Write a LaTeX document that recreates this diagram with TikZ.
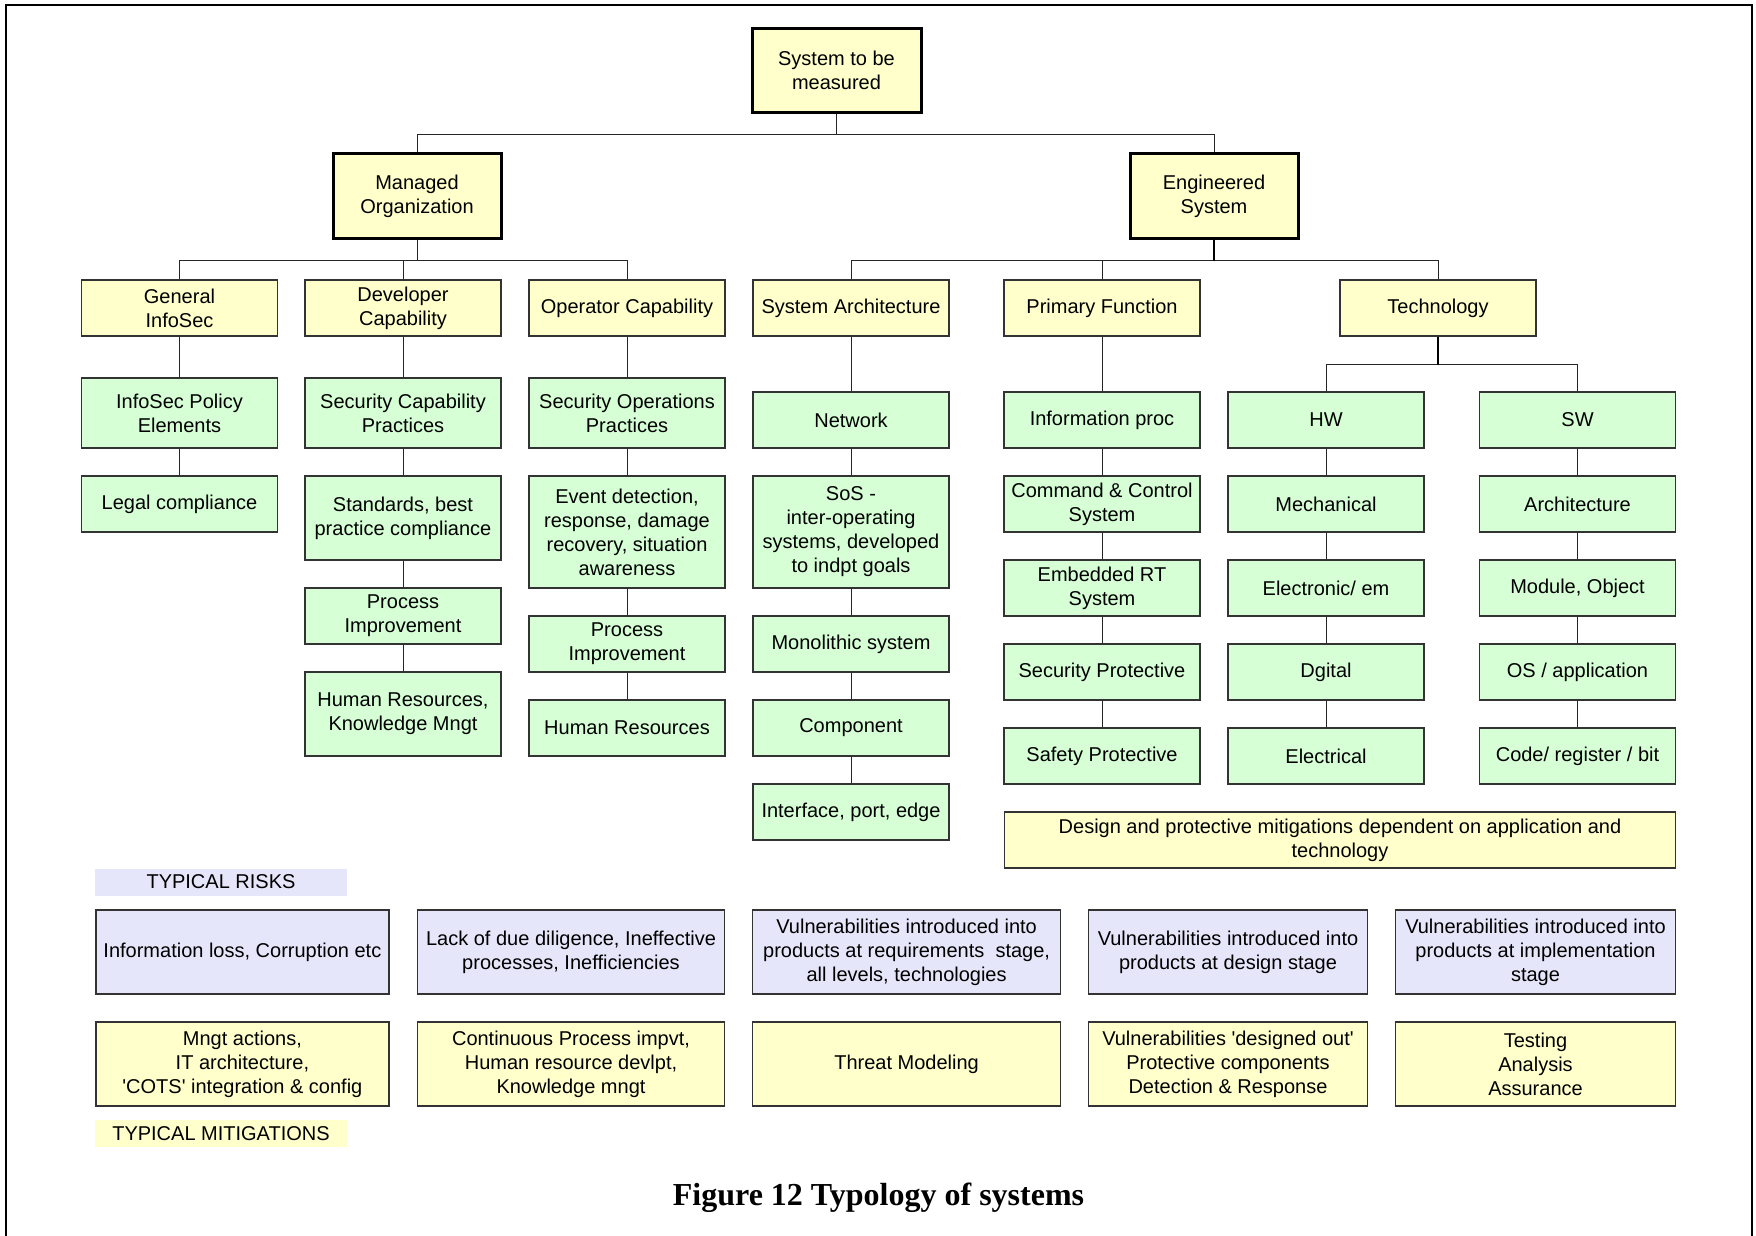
\documentclass[tikz,border=0pt]{standalone}
\usepackage{fontspec}
\setmainfont{Liberation Sans}
\newfontfamily\capfont{Liberation Serif}
\definecolor{yel}{HTML}{FFFFCC}
\definecolor{grn}{HTML}{D6FFD6}
\definecolor{lav}{HTML}{E6E6FA}
\begin{document}
\begin{tikzpicture}[x=0.5pt,y=-0.5pt,
  base/.style={rectangle, inner sep=0pt, align=center, text=black,
    font=\fontsize{10}{12}\selectfont},
  boxw/.style={minimum width=#1*0.5pt},
  boxh/.style={minimum height=#1*0.5pt},
  thinbox/.style={base, draw=black!80, line width=0.7pt, boxw=196, boxh=56},
  gbox/.style={thinbox, fill=grn},
  ybox/.style={thinbox, fill=yel},
  rbox/.style={thinbox, fill=lav, boxh=84},
  mbox/.style={thinbox, fill=yel, boxh=84},
  mainbox/.style={base, draw=black, line width=1.5pt, fill=yel, boxw=168, boxh=84},
  tag/.style={base, boxw=252, boxh=27},
  conn/.style={draw=black!85, line width=0.5pt},
  thickconn/.style={draw=black, line width=1pt}]
\useasboundingbox (0,0) rectangle (1756,1236);
\fill[white] (0,0) rectangle (1756,1236);
% outer frame (open at the bottom)
\draw[line width=1.2pt] (6,1236) -- (6,5) -- (1752,5) -- (1752,1236);

% top levels
\node[mainbox, boxw=169] (t0) at (836.5,70.5) {System to be\\measured};
\node[mainbox] (mo) at (417,196) {Managed\\Organization};
\node[mainbox] (es) at (1214,196) {Engineered\\System};

% second level
\node[ybox] (gi) at (179.5,308) {General\\InfoSec};
\node[ybox] (dc) at (403,308) {Developer\\Capability};
\node[ybox] (oc) at (627,308) {Operator Capability};
\node[ybox] (sa) at (851,308) {System Architecture};
\node[ybox] (pf) at (1102,308) {Primary Function};
\node[ybox] (tech) at (1438,308) {Technology};

% general infosec column
\node[gbox, boxh=70] (c1a) at (179.5,413) {InfoSec Policy\\Elements};
\node[gbox] (c1b) at (179.5,504) {Legal compliance};

% developer column
\node[gbox, boxh=70] (c2a) at (403,413) {Security Capability\\Practices};
\node[gbox, boxh=84] (c2b) at (403,518) {Standards, best\\practice compliance};
\node[gbox] (c2c) at (403,616) {Process\\Improvement};
\node[gbox, boxh=84] (c2d) at (403,714) {Human Resources,\\Knowledge Mngt};

% operator column
\node[gbox, boxh=70] (c3a) at (627,413) {Security Operations\\Practices};
\node[gbox, boxh=112] (c3b) at (627,532) {Event detection,\\response, damage\\recovery, situation\\awareness};
\node[gbox] (c3c) at (627,644) {Process\\Improvement};
\node[gbox] (c3d) at (627,728) {Human Resources};

% system architecture column
\node[gbox] (c4a) at (851,420) {Network};
\node[gbox, boxh=112] (c4b) at (851,532) {SoS -\\inter-operating\\systems, developed\\to indpt goals};
\node[gbox] (c4c) at (851,644) {Monolithic system};
\node[gbox] (c4d) at (851,728) {Component};
\node[gbox] (c4e) at (851,812) {Interface, port, edge};

% primary function column
\node[gbox] (c5a) at (1102,420) {Information proc};
\node[gbox] (c5b) at (1102,504) {Command \& Control\\System};
\node[gbox] (c5c) at (1102,588) {Embedded RT\\System};
\node[gbox] (c5d) at (1102,672) {Security Protective};
\node[gbox] (c5e) at (1102,756) {Safety Protective};

% hardware column
\node[gbox] (hw) at (1326,420) {HW};
\node[gbox] (h2) at (1326,504) {Mechanical};
\node[gbox] (h3) at (1326,588) {Electronic/ em};
\node[gbox] (h4) at (1326,672) {Dgital};
\node[gbox] (h5) at (1326,756) {Electrical};

% software column
\node[gbox] (sw) at (1577.5,420) {SW};
\node[gbox] (s2) at (1577.5,504) {Architecture};
\node[gbox] (s3) at (1577.5,588) {Module, Object};
\node[gbox] (s4) at (1577.5,672) {OS / application};
\node[gbox] (s5) at (1577.5,756) {Code/ register / bit};

\node[ybox, boxw=671] (dpm) at (1340,840) {Design and protective mitigations dependent on application and\\technology};

% risks and mitigations
\node[tag, fill=lav] (lrisk) at (221,882) {TYPICAL RISKS};
\node[rbox, boxw=293] (r1) at (242.4,952) {Information loss, Corruption etc};
\node[rbox, boxw=307] (r2) at (571,952) {Lack of due diligence, Ineffective\\processes, Inefficiencies};
\node[rbox, boxw=308] (r3) at (906.6,952) {Vulnerabilities introduced into\\products at requirements\ \ stage,\\all levels, technologies};
\node[rbox, boxw=279] (r4) at (1228,952) {Vulnerabilities introduced into\\products at design stage};
\node[rbox, boxw=280] (r5) at (1535.5,952) {Vulnerabilities introduced into\\products at implementation\\stage};

\node[mbox, boxw=293] (m1) at (242.4,1064) {Mngt actions,\\IT architecture,\\\textquotesingle COTS\textquotesingle{} integration \& config};
\node[mbox, boxw=307] (m2) at (571,1064) {Continuous Process impvt,\\Human resource devlpt,\\Knowledge mngt};
\node[mbox, boxw=308] (m3) at (906.6,1064) {Threat Modeling};
\node[mbox, boxw=279] (m4) at (1228,1064) {Vulnerabilities \textquotesingle designed out\textquotesingle\\Protective components\\Detection \& Response};
\node[mbox, boxw=280] (m5) at (1535.5,1064) {Testing\\Analysis\\Assurance};
\node[tag, fill=yel] (lmit) at (221,1133.5) {TYPICAL MITIGATIONS};

\node[base, anchor=base, font=\capfont\bfseries\fontsize{16}{19}\selectfont] (cap) at (878.5,1205) {Figure 12 Typology of systems};

% tree connectors
\draw[conn] (t0.south) -- ++(0,20.5) -| (mo.north);
\draw[conn] (t0.south) -- ++(0,20.5) -| (es.north);
\draw[conn] (mo.south) -- ++(0,21) -| (gi.north);
\draw[conn] (mo.south) -- ++(0,21) -| (dc.north);
\draw[conn] (mo.south) -- ++(0,21) -| (oc.north);
\draw[conn] (es.south) -- ++(0,21) -| (sa.north);
\draw[conn] (es.south) -- ++(0,21) -| (pf.north);
\draw[conn] (es.south) -- ++(0,21) -| (tech.north);
\draw[thickconn] (es.south) -- ++(0,21);
\draw[conn] (tech.south) -- ++(0,28) -| (hw.north);
\draw[conn] (tech.south) -- ++(0,28) -| (sw.north);
\draw[thickconn] (tech.south) -- ++(0,28);

\draw[conn] (gi) -- (c1a); \draw[conn] (c1a) -- (c1b);
\draw[conn] (dc) -- (c2a); \draw[conn] (c2a) -- (c2b);
\draw[conn] (c2b) -- (c2c); \draw[conn] (c2c) -- (c2d);
\draw[conn] (oc) -- (c3a); \draw[conn] (c3a) -- (c3b);
\draw[conn] (c3b) -- (c3c); \draw[conn] (c3c) -- (c3d);
\draw[conn] (sa) -- (c4a); \draw[conn] (c4a) -- (c4b);
\draw[conn] (c4b) -- (c4c); \draw[conn] (c4c) -- (c4d);
\draw[conn] (c4d) -- (c4e);
\draw[conn] (pf) -- (c5a); \draw[conn] (c5a) -- (c5b);
\draw[conn] (c5b) -- (c5c); \draw[conn] (c5c) -- (c5d);
\draw[conn] (c5d) -- (c5e);
\draw[conn] (hw) -- (h2); \draw[conn] (h2) -- (h3);
\draw[conn] (h3) -- (h4); \draw[conn] (h4) -- (h5);
\draw[conn] (sw) -- (s2); \draw[conn] (s2) -- (s3);
\draw[conn] (s3) -- (s4); \draw[conn] (s4) -- (s5);
\end{tikzpicture}
\end{document}
